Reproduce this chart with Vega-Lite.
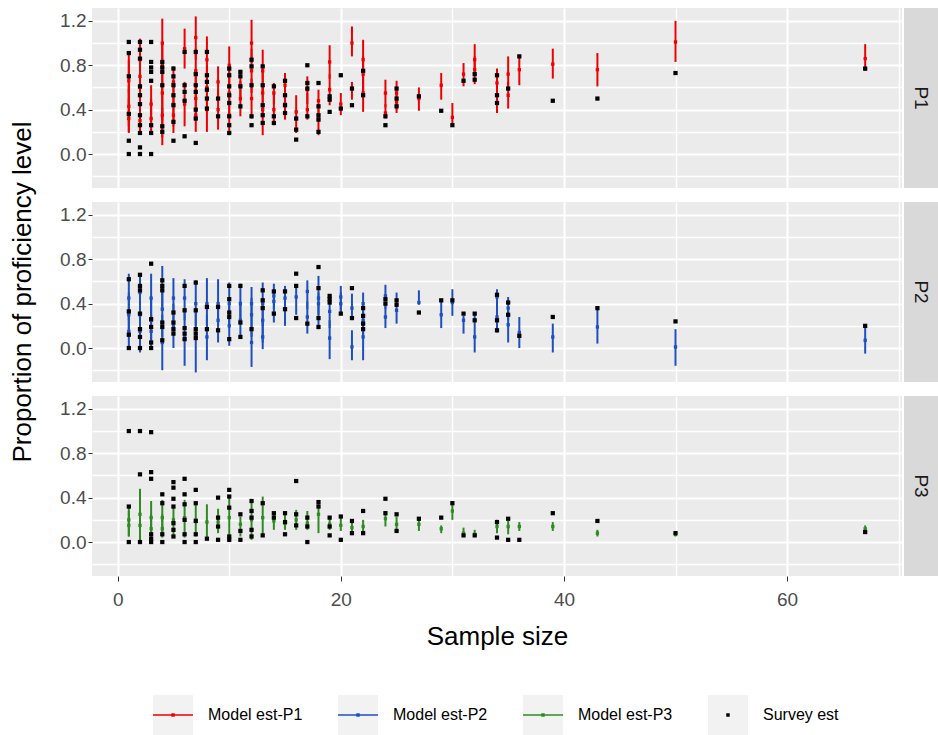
{
  "$schema": "https://vega.github.io/schema/vega-lite/v6.json",
  "padding": {"left": 9, "top": 8, "right": 0, "bottom": 0},
  "background": "white",
  "config": {
    "font": "Liberation Sans",
    "view": {"stroke": null},
    "axis": {"labelFont": "Liberation Sans", "titleFont": "Liberation Sans", "labelColor": "#4D4D4D", "tickColor": "#333333", "titleColor": "#000000", "titleFontWeight": "normal", "domain": false, "gridColor": "#FFFFFF", "labelFontSize": 19, "titleFontSize": 26, "labelOverlap": false}
  },
  "datasets": {
    "m": [
      {"p":"P1","n":1,"e":0.70,"l":0.55,"h":0.91},{"p":"P1","n":1,"e":0.66,"l":0.45,"h":0.85},{"p":"P1","n":1,"e":0.43,"l":0.25,"h":0.62},{"p":"P1","n":1,"e":0.37,"l":0.19,"h":0.58},{"p":"P1","n":1,"e":0.32,"l":0.20,"h":0.50},
      {"p":"P1","n":2,"e":0.85,"l":0.65,"h":1.04},{"p":"P1","n":2,"e":0.60,"l":0.40,"h":0.80},{"p":"P1","n":2,"e":0.45,"l":0.25,"h":0.66},{"p":"P1","n":2,"e":0.30,"l":0.19,"h":0.50},{"p":"P1","n":2,"e":0.70,"l":0.50,"h":0.90},
      {"p":"P1","n":3,"e":0.45,"l":0.28,"h":0.62},{"p":"P1","n":3,"e":0.32,"l":0.19,"h":0.50},
      {"p":"P1","n":4,"e":1.00,"l":0.78,"h":1.22},{"p":"P1","n":4,"e":0.80,"l":0.55,"h":1.00},{"p":"P1","n":4,"e":0.55,"l":0.30,"h":0.78},{"p":"P1","n":4,"e":0.35,"l":0.15,"h":0.55},{"p":"P1","n":4,"e":0.25,"l":0.08,"h":0.42},
      {"p":"P1","n":5,"e":0.65,"l":0.50,"h":0.79},{"p":"P1","n":5,"e":0.45,"l":0.25,"h":0.65},{"p":"P1","n":5,"e":0.35,"l":0.19,"h":0.52},
      {"p":"P1","n":6,"e":0.95,"l":0.77,"h":1.13},{"p":"P1","n":6,"e":0.45,"l":0.25,"h":0.65},
      {"p":"P1","n":7,"e":1.05,"l":0.85,"h":1.24},{"p":"P1","n":7,"e":0.75,"l":0.55,"h":0.95},{"p":"P1","n":7,"e":0.50,"l":0.30,"h":0.70},{"p":"P1","n":7,"e":0.35,"l":0.20,"h":0.55},
      {"p":"P1","n":8,"e":0.85,"l":0.65,"h":1.06},{"p":"P1","n":8,"e":0.60,"l":0.40,"h":0.80},{"p":"P1","n":8,"e":0.40,"l":0.20,"h":0.60},
      {"p":"P1","n":9,"e":0.65,"l":0.50,"h":0.79},{"p":"P1","n":9,"e":0.40,"l":0.22,"h":0.58},
      {"p":"P1","n":10,"e":0.80,"l":0.62,"h":0.97},{"p":"P1","n":10,"e":0.55,"l":0.35,"h":0.75},{"p":"P1","n":10,"e":0.35,"l":0.17,"h":0.52},
      {"p":"P1","n":11,"e":0.62,"l":0.48,"h":0.76},{"p":"P1","n":11,"e":0.50,"l":0.34,"h":0.66},
      {"p":"P1","n":12,"e":1.00,"l":0.82,"h":1.21},{"p":"P1","n":12,"e":0.75,"l":0.55,"h":0.95},{"p":"P1","n":12,"e":0.50,"l":0.32,"h":0.68},
      {"p":"P1","n":13,"e":0.75,"l":0.55,"h":0.94},{"p":"P1","n":13,"e":0.55,"l":0.35,"h":0.75},{"p":"P1","n":13,"e":0.40,"l":0.17,"h":0.60},
      {"p":"P1","n":14,"e":0.55,"l":0.45,"h":0.64},{"p":"P1","n":14,"e":0.40,"l":0.26,"h":0.55},
      {"p":"P1","n":15,"e":0.62,"l":0.50,"h":0.73},{"p":"P1","n":15,"e":0.45,"l":0.31,"h":0.58},
      {"p":"P1","n":16,"e":0.38,"l":0.19,"h":0.53},
      {"p":"P1","n":17,"e":0.58,"l":0.45,"h":0.70},{"p":"P1","n":17,"e":0.40,"l":0.31,"h":0.55},
      {"p":"P1","n":18,"e":0.48,"l":0.32,"h":0.58},{"p":"P1","n":18,"e":0.32,"l":0.17,"h":0.45},
      {"p":"P1","n":19,"e":0.83,"l":0.68,"h":0.98},{"p":"P1","n":19,"e":0.58,"l":0.44,"h":0.72},
      {"p":"P1","n":20,"e":0.45,"l":0.35,"h":0.55},
      {"p":"P1","n":21,"e":1.00,"l":0.88,"h":1.15},{"p":"P1","n":21,"e":0.59,"l":0.49,"h":0.65},
      {"p":"P1","n":22,"e":0.85,"l":0.70,"h":1.03},{"p":"P1","n":22,"e":0.72,"l":0.55,"h":0.88},{"p":"P1","n":22,"e":0.55,"l":0.38,"h":0.72},
      {"p":"P1","n":24,"e":0.55,"l":0.42,"h":0.67},{"p":"P1","n":24,"e":0.37,"l":0.32,"h":0.45},
      {"p":"P1","n":25,"e":0.55,"l":0.40,"h":0.66},{"p":"P1","n":25,"e":0.47,"l":0.37,"h":0.58},
      {"p":"P1","n":27,"e":0.50,"l":0.39,"h":0.60},
      {"p":"P1","n":29,"e":0.62,"l":0.49,"h":0.73},
      {"p":"P1","n":30,"e":0.33,"l":0.26,"h":0.46},
      {"p":"P1","n":31,"e":0.72,"l":0.61,"h":0.82},
      {"p":"P1","n":32,"e":0.85,"l":0.72,"h":0.99},{"p":"P1","n":32,"e":0.76,"l":0.63,"h":0.88},
      {"p":"P1","n":34,"e":0.64,"l":0.50,"h":0.77},{"p":"P1","n":34,"e":0.46,"l":0.37,"h":0.58},
      {"p":"P1","n":35,"e":0.72,"l":0.58,"h":0.88},{"p":"P1","n":35,"e":0.53,"l":0.41,"h":0.65},
      {"p":"P1","n":36,"e":0.76,"l":0.62,"h":0.89},
      {"p":"P1","n":39,"e":0.81,"l":0.68,"h":0.95},
      {"p":"P1","n":43,"e":0.76,"l":0.61,"h":0.91},
      {"p":"P1","n":50,"e":1.01,"l":0.83,"h":1.20},
      {"p":"P1","n":67,"e":0.86,"l":0.75,"h":0.99},

      {"p":"P2","n":1,"e":0.45,"l":0.25,"h":0.67},{"p":"P2","n":1,"e":0.30,"l":0.10,"h":0.50},{"p":"P2","n":1,"e":0.15,"l":-0.01,"h":0.35},
      {"p":"P2","n":2,"e":0.50,"l":0.30,"h":0.67},{"p":"P2","n":2,"e":0.30,"l":0.10,"h":0.50},{"p":"P2","n":2,"e":0.15,"l":-0.04,"h":0.35},
      {"p":"P2","n":3,"e":0.45,"l":0.25,"h":0.67},{"p":"P2","n":3,"e":0.25,"l":0.05,"h":0.45},{"p":"P2","n":3,"e":0.15,"l":0.00,"h":0.30},
      {"p":"P2","n":4,"e":0.55,"l":0.35,"h":0.74},{"p":"P2","n":4,"e":0.35,"l":0.10,"h":0.55},{"p":"P2","n":4,"e":0.05,"l":-0.20,"h":0.30},
      {"p":"P2","n":5,"e":0.45,"l":0.25,"h":0.63},{"p":"P2","n":5,"e":0.20,"l":0.00,"h":0.40},
      {"p":"P2","n":6,"e":0.45,"l":0.25,"h":0.62},{"p":"P2","n":6,"e":0.10,"l":-0.16,"h":0.35},
      {"p":"P2","n":7,"e":0.40,"l":0.20,"h":0.61},{"p":"P2","n":7,"e":0.10,"l":-0.22,"h":0.35},
      {"p":"P2","n":8,"e":0.40,"l":0.20,"h":0.63},{"p":"P2","n":8,"e":0.10,"l":-0.11,"h":0.30},
      {"p":"P2","n":9,"e":0.40,"l":0.20,"h":0.62},{"p":"P2","n":9,"e":0.25,"l":0.05,"h":0.42},
      {"p":"P2","n":10,"e":0.40,"l":0.20,"h":0.59},{"p":"P2","n":10,"e":0.20,"l":0.02,"h":0.38},
      {"p":"P2","n":11,"e":0.40,"l":0.23,"h":0.58},{"p":"P2","n":11,"e":0.25,"l":0.10,"h":0.42},
      {"p":"P2","n":12,"e":0.40,"l":0.25,"h":0.55},{"p":"P2","n":12,"e":0.30,"l":0.10,"h":0.45},{"p":"P2","n":12,"e":0.05,"l":-0.17,"h":0.25},
      {"p":"P2","n":13,"e":0.40,"l":0.20,"h":0.59},{"p":"P2","n":13,"e":0.25,"l":0.05,"h":0.42},{"p":"P2","n":13,"e":0.10,"l":-0.01,"h":0.25},
      {"p":"P2","n":14,"e":0.47,"l":0.35,"h":0.58},{"p":"P2","n":14,"e":0.42,"l":0.23,"h":0.50},
      {"p":"P2","n":15,"e":0.45,"l":0.30,"h":0.56},{"p":"P2","n":15,"e":0.35,"l":0.20,"h":0.45},
      {"p":"P2","n":16,"e":0.46,"l":0.30,"h":0.56},
      {"p":"P2","n":17,"e":0.51,"l":0.35,"h":0.61},{"p":"P2","n":17,"e":0.28,"l":0.13,"h":0.42},
      {"p":"P2","n":18,"e":0.45,"l":0.30,"h":0.65},{"p":"P2","n":18,"e":0.40,"l":0.17,"h":0.50},
      {"p":"P2","n":19,"e":0.33,"l":0.18,"h":0.47},{"p":"P2","n":19,"e":0.09,"l":-0.10,"h":0.25},
      {"p":"P2","n":20,"e":0.46,"l":0.31,"h":0.56},{"p":"P2","n":20,"e":0.40,"l":0.31,"h":0.50},
      {"p":"P2","n":21,"e":0.36,"l":0.29,"h":0.49},{"p":"P2","n":21,"e":0.01,"l":-0.11,"h":0.16},
      {"p":"P2","n":22,"e":0.40,"l":0.25,"h":0.50},{"p":"P2","n":22,"e":0.25,"l":0.10,"h":0.40},{"p":"P2","n":22,"e":0.10,"l":-0.11,"h":0.25},
      {"p":"P2","n":24,"e":0.47,"l":0.35,"h":0.57},{"p":"P2","n":24,"e":0.28,"l":0.18,"h":0.40},
      {"p":"P2","n":25,"e":0.34,"l":0.22,"h":0.50},
      {"p":"P2","n":27,"e":0.41,"l":0.39,"h":0.52},
      {"p":"P2","n":29,"e":0.30,"l":0.18,"h":0.43},
      {"p":"P2","n":30,"e":0.41,"l":0.29,"h":0.53},
      {"p":"P2","n":31,"e":0.25,"l":0.13,"h":0.29},
      {"p":"P2","n":32,"e":0.10,"l":-0.04,"h":0.31},
      {"p":"P2","n":34,"e":0.46,"l":0.35,"h":0.53},{"p":"P2","n":34,"e":0.28,"l":0.14,"h":0.40},
      {"p":"P2","n":35,"e":0.36,"l":0.25,"h":0.46},{"p":"P2","n":35,"e":0.21,"l":0.05,"h":0.35},
      {"p":"P2","n":36,"e":0.14,"l":0.00,"h":0.28},
      {"p":"P2","n":39,"e":0.10,"l":-0.04,"h":0.22},
      {"p":"P2","n":43,"e":0.19,"l":0.04,"h":0.37},
      {"p":"P2","n":50,"e":0.01,"l":-0.16,"h":0.17},
      {"p":"P2","n":67,"e":0.07,"l":-0.05,"h":0.20},

      {"p":"P3","n":1,"e":0.20,"l":0.05,"h":0.32},{"p":"P3","n":1,"e":0.15,"l":0.05,"h":0.28},
      {"p":"P3","n":2,"e":0.25,"l":0.08,"h":0.48},{"p":"P3","n":2,"e":0.15,"l":0.01,"h":0.30},
      {"p":"P3","n":3,"e":0.22,"l":0.05,"h":0.37},{"p":"P3","n":3,"e":0.12,"l":0.01,"h":0.25},
      {"p":"P3","n":4,"e":0.22,"l":0.06,"h":0.38},{"p":"P3","n":4,"e":0.12,"l":0.04,"h":0.25},
      {"p":"P3","n":5,"e":0.20,"l":0.04,"h":0.32},
      {"p":"P3","n":6,"e":0.22,"l":0.04,"h":0.38},
      {"p":"P3","n":7,"e":0.20,"l":0.05,"h":0.34},
      {"p":"P3","n":8,"e":0.18,"l":0.02,"h":0.34},
      {"p":"P3","n":9,"e":0.18,"l":0.08,"h":0.30},
      {"p":"P3","n":10,"e":0.22,"l":0.02,"h":0.40},
      {"p":"P3","n":11,"e":0.16,"l":0.05,"h":0.23},
      {"p":"P3","n":12,"e":0.20,"l":0.02,"h":0.36},
      {"p":"P3","n":13,"e":0.22,"l":0.05,"h":0.41},
      {"p":"P3","n":14,"e":0.19,"l":0.11,"h":0.27},
      {"p":"P3","n":15,"e":0.17,"l":0.11,"h":0.28},
      {"p":"P3","n":16,"e":0.20,"l":0.11,"h":0.29},
      {"p":"P3","n":17,"e":0.17,"l":0.11,"h":0.28},
      {"p":"P3","n":18,"e":0.25,"l":0.08,"h":0.38},
      {"p":"P3","n":19,"e":0.16,"l":0.11,"h":0.22},
      {"p":"P3","n":20,"e":0.15,"l":0.10,"h":0.22},
      {"p":"P3","n":21,"e":0.13,"l":0.07,"h":0.20},
      {"p":"P3","n":22,"e":0.14,"l":0.07,"h":0.20},
      {"p":"P3","n":24,"e":0.21,"l":0.14,"h":0.28},
      {"p":"P3","n":25,"e":0.16,"l":0.11,"h":0.23},
      {"p":"P3","n":27,"e":0.16,"l":0.10,"h":0.20},
      {"p":"P3","n":29,"e":0.12,"l":0.08,"h":0.15},
      {"p":"P3","n":30,"e":0.28,"l":0.20,"h":0.37},
      {"p":"P3","n":31,"e":0.08,"l":0.05,"h":0.13},
      {"p":"P3","n":32,"e":0.07,"l":0.05,"h":0.11},
      {"p":"P3","n":34,"e":0.14,"l":0.08,"h":0.20},
      {"p":"P3","n":35,"e":0.14,"l":0.07,"h":0.19},
      {"p":"P3","n":36,"e":0.14,"l":0.10,"h":0.18},
      {"p":"P3","n":39,"e":0.14,"l":0.10,"h":0.18},
      {"p":"P3","n":43,"e":0.08,"l":0.05,"h":0.11},
      {"p":"P3","n":50,"e":0.07,"l":0.05,"h":0.10},
      {"p":"P3","n":67,"e":0.12,"l":0.08,"h":0.15}
    ],
    "v": [
      {"p":"P1","n":1,"v":1.01},{"p":"P1","n":1,"v":0.91},{"p":"P1","n":1,"v":0.70},{"p":"P1","n":1,"v":0.36},{"p":"P1","n":1,"v":0.12},{"p":"P1","n":1,"v":0.0},
      {"p":"P1","n":2,"v":1.01},{"p":"P1","n":2,"v":0.94},{"p":"P1","n":2,"v":0.86},{"p":"P1","n":2,"v":0.61},{"p":"P1","n":2,"v":0.53},{"p":"P1","n":2,"v":0.45},{"p":"P1","n":2,"v":0.35},{"p":"P1","n":2,"v":0.26},{"p":"P1","n":2,"v":0.19},{"p":"P1","n":2,"v":0.06},{"p":"P1","n":2,"v":0.0},
      {"p":"P1","n":3,"v":1.01},{"p":"P1","n":3,"v":0.83},{"p":"P1","n":3,"v":0.78},{"p":"P1","n":3,"v":0.74},{"p":"P1","n":3,"v":0.66},{"p":"P1","n":3,"v":0.26},{"p":"P1","n":3,"v":0.19},{"p":"P1","n":3,"v":0.0},
      {"p":"P1","n":4,"v":0.83},{"p":"P1","n":4,"v":0.78},{"p":"P1","n":4,"v":0.74},{"p":"P1","n":4,"v":0.62},{"p":"P1","n":4,"v":0.25},{"p":"P1","n":4,"v":0.20},
      {"p":"P1","n":5,"v":0.77},{"p":"P1","n":5,"v":0.70},{"p":"P1","n":5,"v":0.62},{"p":"P1","n":5,"v":0.53},{"p":"P1","n":5,"v":0.44},{"p":"P1","n":5,"v":0.29},{"p":"P1","n":5,"v":0.12},
      {"p":"P1","n":6,"v":0.92},{"p":"P1","n":6,"v":0.62},{"p":"P1","n":6,"v":0.56},{"p":"P1","n":6,"v":0.48},{"p":"P1","n":6,"v":0.16},
      {"p":"P1","n":7,"v":0.92},{"p":"P1","n":7,"v":0.72},{"p":"P1","n":7,"v":0.62},{"p":"P1","n":7,"v":0.56},{"p":"P1","n":7,"v":0.40},{"p":"P1","n":7,"v":0.32},{"p":"P1","n":7,"v":0.10},
      {"p":"P1","n":8,"v":0.92},{"p":"P1","n":8,"v":0.71},{"p":"P1","n":8,"v":0.65},{"p":"P1","n":8,"v":0.58},{"p":"P1","n":8,"v":0.50},{"p":"P1","n":8,"v":0.41},
      {"p":"P1","n":9,"v":0.50},{"p":"P1","n":9,"v":0.34},
      {"p":"P1","n":10,"v":0.77},{"p":"P1","n":10,"v":0.71},{"p":"P1","n":10,"v":0.61},{"p":"P1","n":10,"v":0.53},{"p":"P1","n":10,"v":0.46},{"p":"P1","n":10,"v":0.34},{"p":"P1","n":10,"v":0.26},{"p":"P1","n":10,"v":0.19},
      {"p":"P1","n":11,"v":0.74},{"p":"P1","n":11,"v":0.70},{"p":"P1","n":11,"v":0.61},{"p":"P1","n":11,"v":0.43},
      {"p":"P1","n":12,"v":0.85},{"p":"P1","n":12,"v":0.79},{"p":"P1","n":12,"v":0.62},{"p":"P1","n":12,"v":0.34},{"p":"P1","n":12,"v":0.26},
      {"p":"P1","n":13,"v":0.79},{"p":"P1","n":13,"v":0.62},{"p":"P1","n":13,"v":0.44},{"p":"P1","n":13,"v":0.35},{"p":"P1","n":13,"v":0.28},
      {"p":"P1","n":14,"v":0.61},{"p":"P1","n":14,"v":0.34},{"p":"P1","n":14,"v":0.28},
      {"p":"P1","n":15,"v":0.66},{"p":"P1","n":15,"v":0.53},{"p":"P1","n":15,"v":0.44},{"p":"P1","n":15,"v":0.37},
      {"p":"P1","n":16,"v":0.32},{"p":"P1","n":16,"v":0.22},{"p":"P1","n":16,"v":0.13},
      {"p":"P1","n":17,"v":0.80},{"p":"P1","n":17,"v":0.64},{"p":"P1","n":17,"v":0.59},{"p":"P1","n":17,"v":0.34},
      {"p":"P1","n":18,"v":0.64},{"p":"P1","n":18,"v":0.43},{"p":"P1","n":18,"v":0.35},{"p":"P1","n":18,"v":0.31},{"p":"P1","n":18,"v":0.20},
      {"p":"P1","n":19,"v":0.52},{"p":"P1","n":19,"v":0.49},{"p":"P1","n":19,"v":0.38},
      {"p":"P1","n":20,"v":0.71},{"p":"P1","n":20,"v":0.41},
      {"p":"P1","n":21,"v":0.59},{"p":"P1","n":21,"v":0.44},
      {"p":"P1","n":22,"v":0.75},{"p":"P1","n":22,"v":0.53},
      {"p":"P1","n":24,"v":0.34},{"p":"P1","n":24,"v":0.26},
      {"p":"P1","n":25,"v":0.59},{"p":"P1","n":25,"v":0.50},{"p":"P1","n":25,"v":0.43},
      {"p":"P1","n":27,"v":0.52},{"p":"P1","n":29,"v":0.39},{"p":"P1","n":30,"v":0.26},{"p":"P1","n":31,"v":0.66},
      {"p":"P1","n":32,"v":0.72},{"p":"P1","n":32,"v":0.67},
      {"p":"P1","n":34,"v":0.71},{"p":"P1","n":34,"v":0.53},{"p":"P1","n":34,"v":0.46},
      {"p":"P1","n":35,"v":0.59},{"p":"P1","n":36,"v":0.88},{"p":"P1","n":39,"v":0.48},{"p":"P1","n":43,"v":0.50},{"p":"P1","n":50,"v":0.73},{"p":"P1","n":67,"v":0.77},

      {"p":"P2","n":1,"v":0.62},{"p":"P2","n":1,"v":0.33},{"p":"P2","n":1,"v":0.12},{"p":"P2","n":1,"v":0.0},
      {"p":"P2","n":2,"v":0.66},{"p":"P2","n":2,"v":0.56},{"p":"P2","n":2,"v":0.52},{"p":"P2","n":2,"v":0.31},{"p":"P2","n":2,"v":0.17},{"p":"P2","n":2,"v":0.10},{"p":"P2","n":2,"v":0.0},
      {"p":"P2","n":3,"v":0.76},{"p":"P2","n":3,"v":0.26},{"p":"P2","n":3,"v":0.19},{"p":"P2","n":3,"v":0.05},{"p":"P2","n":3,"v":0.0},
      {"p":"P2","n":4,"v":0.61},{"p":"P2","n":4,"v":0.56},{"p":"P2","n":4,"v":0.52},{"p":"P2","n":4,"v":0.23},{"p":"P2","n":4,"v":0.19},{"p":"P2","n":4,"v":0.07},
      {"p":"P2","n":5,"v":0.32},{"p":"P2","n":5,"v":0.23},{"p":"P2","n":5,"v":0.17},{"p":"P2","n":5,"v":0.13},
      {"p":"P2","n":6,"v":0.56},{"p":"P2","n":6,"v":0.34},{"p":"P2","n":6,"v":0.18},{"p":"P2","n":6,"v":0.13},{"p":"P2","n":6,"v":0.08},
      {"p":"P2","n":7,"v":0.59},{"p":"P2","n":7,"v":0.34},{"p":"P2","n":7,"v":0.17},{"p":"P2","n":7,"v":0.13},{"p":"P2","n":7,"v":0.09},
      {"p":"P2","n":8,"v":0.37},{"p":"P2","n":8,"v":0.17},
      {"p":"P2","n":9,"v":0.37},{"p":"P2","n":9,"v":0.16},
      {"p":"P2","n":10,"v":0.56},{"p":"P2","n":10,"v":0.44},{"p":"P2","n":10,"v":0.32},{"p":"P2","n":10,"v":0.28},{"p":"P2","n":10,"v":0.08},
      {"p":"P2","n":11,"v":0.56},{"p":"P2","n":11,"v":0.23},{"p":"P2","n":11,"v":0.10},
      {"p":"P2","n":12,"v":0.17},
      {"p":"P2","n":13,"v":0.52},{"p":"P2","n":13,"v":0.43},{"p":"P2","n":13,"v":0.36},
      {"p":"P2","n":14,"v":0.51},{"p":"P2","n":14,"v":0.31},
      {"p":"P2","n":15,"v":0.51},{"p":"P2","n":15,"v":0.35},
      {"p":"P2","n":16,"v":0.67},{"p":"P2","n":16,"v":0.56},{"p":"P2","n":16,"v":0.27},
      {"p":"P2","n":17,"v":0.22},
      {"p":"P2","n":18,"v":0.73},{"p":"P2","n":18,"v":0.54},{"p":"P2","n":18,"v":0.27},{"p":"P2","n":18,"v":0.19},
      {"p":"P2","n":19,"v":0.47},{"p":"P2","n":19,"v":0.44},{"p":"P2","n":19,"v":0.41},
      {"p":"P2","n":20,"v":0.31},
      {"p":"P2","n":21,"v":0.54},{"p":"P2","n":21,"v":0.27},
      {"p":"P2","n":22,"v":0.36},{"p":"P2","n":22,"v":0.29},{"p":"P2","n":22,"v":0.22},{"p":"P2","n":22,"v":0.17},
      {"p":"P2","n":24,"v":0.44},{"p":"P2","n":24,"v":0.40},
      {"p":"P2","n":25,"v":0.43},{"p":"P2","n":25,"v":0.39},
      {"p":"P2","n":27,"v":0.32},{"p":"P2","n":29,"v":0.43},{"p":"P2","n":30,"v":0.43},{"p":"P2","n":31,"v":0.31},
      {"p":"P2","n":32,"v":0.31},{"p":"P2","n":32,"v":0.25},
      {"p":"P2","n":34,"v":0.48},{"p":"P2","n":34,"v":0.25},{"p":"P2","n":34,"v":0.16},
      {"p":"P2","n":35,"v":0.41},{"p":"P2","n":35,"v":0.30},
      {"p":"P2","n":36,"v":0.11},{"p":"P2","n":39,"v":0.28},{"p":"P2","n":43,"v":0.36},{"p":"P2","n":50,"v":0.24},{"p":"P2","n":67,"v":0.20},

      {"p":"P3","n":1,"v":1.0},{"p":"P3","n":1,"v":0.32},{"p":"P3","n":1,"v":0.0},
      {"p":"P3","n":2,"v":1.0},{"p":"P3","n":2,"v":0.61},{"p":"P3","n":2,"v":0.0},
      {"p":"P3","n":3,"v":0.99},{"p":"P3","n":3,"v":0.63},{"p":"P3","n":3,"v":0.57},{"p":"P3","n":3,"v":0.07},{"p":"P3","n":3,"v":0.03},{"p":"P3","n":3,"v":0.0},
      {"p":"P3","n":4,"v":0.43},{"p":"P3","n":4,"v":0.35},{"p":"P3","n":4,"v":0.07},{"p":"P3","n":4,"v":0.0},
      {"p":"P3","n":5,"v":0.54},{"p":"P3","n":5,"v":0.49},{"p":"P3","n":5,"v":0.39},{"p":"P3","n":5,"v":0.32},{"p":"P3","n":5,"v":0.17},{"p":"P3","n":5,"v":0.11},{"p":"P3","n":5,"v":0.05},
      {"p":"P3","n":6,"v":0.57},{"p":"P3","n":6,"v":0.43},{"p":"P3","n":6,"v":0.34},{"p":"P3","n":6,"v":0.20},{"p":"P3","n":6,"v":0.07},{"p":"P3","n":6,"v":0.0},
      {"p":"P3","n":7,"v":0.47},{"p":"P3","n":7,"v":0.35},{"p":"P3","n":7,"v":0.19},{"p":"P3","n":7,"v":0.07},{"p":"P3","n":7,"v":0.0},
      {"p":"P3","n":8,"v":0.03},
      {"p":"P3","n":9,"v":0.40},{"p":"P3","n":9,"v":0.22},{"p":"P3","n":9,"v":0.14},{"p":"P3","n":9,"v":0.02},
      {"p":"P3","n":10,"v":0.47},{"p":"P3","n":10,"v":0.41},{"p":"P3","n":10,"v":0.31},{"p":"P3","n":10,"v":0.05},{"p":"P3","n":10,"v":0.02},
      {"p":"P3","n":11,"v":0.25},{"p":"P3","n":11,"v":0.10},{"p":"P3","n":11,"v":0.02},
      {"p":"P3","n":12,"v":0.37},{"p":"P3","n":12,"v":0.28},{"p":"P3","n":12,"v":0.22},{"p":"P3","n":12,"v":0.11},{"p":"P3","n":12,"v":0.05},
      {"p":"P3","n":13,"v":0.35},{"p":"P3","n":13,"v":0.06},
      {"p":"P3","n":14,"v":0.26},{"p":"P3","n":14,"v":0.22},
      {"p":"P3","n":15,"v":0.26},{"p":"P3","n":15,"v":0.18},{"p":"P3","n":15,"v":0.07},
      {"p":"P3","n":16,"v":0.55},{"p":"P3","n":16,"v":0.25},{"p":"P3","n":16,"v":0.15},
      {"p":"P3","n":17,"v":0.22},{"p":"P3","n":17,"v":0.14},{"p":"P3","n":17,"v":0.0},
      {"p":"P3","n":18,"v":0.36},{"p":"P3","n":18,"v":0.32},
      {"p":"P3","n":19,"v":0.22},{"p":"P3","n":19,"v":0.14},{"p":"P3","n":19,"v":0.06},
      {"p":"P3","n":20,"v":0.23},{"p":"P3","n":20,"v":0.02},
      {"p":"P3","n":21,"v":0.19},{"p":"P3","n":21,"v":0.08},
      {"p":"P3","n":22,"v":0.28},{"p":"P3","n":22,"v":0.08},
      {"p":"P3","n":24,"v":0.39},{"p":"P3","n":24,"v":0.26},
      {"p":"P3","n":25,"v":0.25},{"p":"P3","n":25,"v":0.10},
      {"p":"P3","n":27,"v":0.21},{"p":"P3","n":29,"v":0.22},{"p":"P3","n":30,"v":0.35},{"p":"P3","n":31,"v":0.06},{"p":"P3","n":32,"v":0.06},
      {"p":"P3","n":34,"v":0.18},{"p":"P3","n":34,"v":0.04},
      {"p":"P3","n":35,"v":0.21},{"p":"P3","n":35,"v":0.02},
      {"p":"P3","n":36,"v":0.02},{"p":"P3","n":39,"v":0.26},{"p":"P3","n":43,"v":0.19},{"p":"P3","n":50,"v":0.08},{"p":"P3","n":67,"v":0.09}
    ],
    "keys": [{"s":"Model est-P1"},{"s":"Model est-P2"},{"s":"Model est-P3"},{"s":"Survey est"}]
  },
  "hconcat": [
    {"width": 26, "height": 568,
     "data": {"values": [{"t": "Proportion of proficiency level"}]},
     "mark": {"type": "text", "angle": 270, "fontSize": 26, "color": "#000000", "font": "Liberation Sans"},
     "encoding": {"text": {"field": "t"}}},
    {"concat": [
      {"hconcat": [
        {"width": 810, "height": 180, "view": {"fill": "#EBEBEB", "stroke": null},
         "layer": [
          {"data": {"name": "m"}, "transform": [{"filter": "datum.p == 'P1'"}],
           "mark": {"type": "rule", "strokeWidth": 2},
           "encoding": {
             "x": {"field": "n", "type": "quantitative", "scale": {"domain": [-2.3, 70.3], "nice": false, "zero": false}, "axis": {"values": [0, 20, 40, 60], "labels": false, "ticks": false, "title": null, "grid": true, "gridWidth": 2}},
             "y": {"field": "l", "type": "quantitative", "scale": {"domain": [-0.306, 1.316], "nice": false, "zero": false}, "axis": {"values": [0, 0.4, 0.8, 1.2], "format": ".1f", "title": null, "grid": true, "gridWidth": 2, "tickSize": 4, "labelPadding": 2}},
             "y2": {"field": "h"},
             "color": {"datum": "Model est-P1", "type": "nominal", "scale": {"domain": ["Model est-P1", "Model est-P2", "Model est-P3", "Survey est"], "range": ["#EE0000", "#1C4FC0", "#2E8B22", "#000000"]}, "legend": null}
           }},
          {"data": {"name": "m"}, "transform": [{"filter": "datum.p == 'P1'"}],
           "mark": {"type": "point", "shape": "square", "filled": true, "size": 11, "opacity": 1},
           "encoding": {
             "x": {"field": "n", "type": "quantitative", "axis": {"orient": "bottom", "values": [10, 30, 50, 70], "labels": false, "ticks": false, "title": null, "grid": true, "gridWidth": 1.4}},
             "y": {"field": "e", "type": "quantitative", "axis": {"orient": "right", "values": [-0.2, 0.2, 0.6, 1.0], "labels": false, "ticks": false, "title": null, "grid": true, "gridWidth": 1.4}},
             "color": {"datum": "Model est-P1", "type": "nominal", "legend": null}
           }},
          {"data": {"name": "v"}, "transform": [{"filter": "datum.p == 'P1'"}],
           "mark": {"type": "point", "shape": "square", "filled": true, "size": 18, "opacity": 1},
           "encoding": {
             "x": {"field": "n", "type": "quantitative", "axis": null},
             "y": {"field": "v", "type": "quantitative", "axis": null},
             "color": {"datum": "Survey est", "type": "nominal", "legend": null}
           }}
         ],
         "resolve": {"axis": {"x": "independent", "y": "independent"}}},
        {"width": 34, "height": 180, "view": {"fill": "#D9D9D9", "stroke": null},
         "data": {"values": [{"t": "P1"}]},
         "mark": {"type": "text", "angle": 90, "fontSize": 19, "color": "#1A1A1A", "font": "Liberation Sans"},
         "encoding": {"text": {"field": "t"}}}
      ], "spacing": 2},
      {"hconcat": [
        {"width": 810, "height": 180, "view": {"fill": "#EBEBEB", "stroke": null},
         "layer": [
          {"data": {"name": "m"}, "transform": [{"filter": "datum.p == 'P2'"}],
           "mark": {"type": "rule", "strokeWidth": 2},
           "encoding": {
             "x": {"field": "n", "type": "quantitative", "scale": {"domain": [-2.3, 70.3], "nice": false, "zero": false}, "axis": {"values": [0, 20, 40, 60], "labels": false, "ticks": false, "title": null, "grid": true, "gridWidth": 2}},
             "y": {"field": "l", "type": "quantitative", "scale": {"domain": [-0.306, 1.316], "nice": false, "zero": false}, "axis": {"values": [0, 0.4, 0.8, 1.2], "format": ".1f", "title": null, "grid": true, "gridWidth": 2, "tickSize": 4, "labelPadding": 2}},
             "y2": {"field": "h"},
             "color": {"datum": "Model est-P2", "type": "nominal", "scale": {"domain": ["Model est-P1", "Model est-P2", "Model est-P3", "Survey est"], "range": ["#EE0000", "#1C4FC0", "#2E8B22", "#000000"]}, "legend": null}
           }},
          {"data": {"name": "m"}, "transform": [{"filter": "datum.p == 'P2'"}],
           "mark": {"type": "point", "shape": "square", "filled": true, "size": 11, "opacity": 1},
           "encoding": {
             "x": {"field": "n", "type": "quantitative", "axis": {"orient": "bottom", "values": [10, 30, 50, 70], "labels": false, "ticks": false, "title": null, "grid": true, "gridWidth": 1.4}},
             "y": {"field": "e", "type": "quantitative", "axis": {"orient": "right", "values": [-0.2, 0.2, 0.6, 1.0], "labels": false, "ticks": false, "title": null, "grid": true, "gridWidth": 1.4}},
             "color": {"datum": "Model est-P2", "type": "nominal", "legend": null}
           }},
          {"data": {"name": "v"}, "transform": [{"filter": "datum.p == 'P2'"}],
           "mark": {"type": "point", "shape": "square", "filled": true, "size": 18, "opacity": 1},
           "encoding": {
             "x": {"field": "n", "type": "quantitative", "axis": null},
             "y": {"field": "v", "type": "quantitative", "axis": null},
             "color": {"datum": "Survey est", "type": "nominal", "legend": null}
           }}
         ],
         "resolve": {"axis": {"x": "independent", "y": "independent"}}},
        {"width": 34, "height": 180, "view": {"fill": "#D9D9D9", "stroke": null},
         "data": {"values": [{"t": "P2"}]},
         "mark": {"type": "text", "angle": 90, "fontSize": 19, "color": "#1A1A1A", "font": "Liberation Sans"},
         "encoding": {"text": {"field": "t"}}}
      ], "spacing": 2},
      {"hconcat": [
        {"width": 810, "height": 180, "view": {"fill": "#EBEBEB", "stroke": null},
         "layer": [
          {"data": {"name": "m"}, "transform": [{"filter": "datum.p == 'P3'"}],
           "mark": {"type": "rule", "strokeWidth": 2},
           "encoding": {
             "x": {"field": "n", "type": "quantitative", "scale": {"domain": [-2.3, 70.3], "nice": false, "zero": false}, "axis": {"values": [0, 20, 40, 60], "title": "Sample size", "titlePadding": 14, "grid": true, "gridWidth": 2, "tickSize": 5, "labelPadding": 9}},
             "y": {"field": "l", "type": "quantitative", "scale": {"domain": [-0.306, 1.316], "nice": false, "zero": false}, "axis": {"values": [0, 0.4, 0.8, 1.2], "format": ".1f", "title": null, "grid": true, "gridWidth": 2, "tickSize": 4, "labelPadding": 2}},
             "y2": {"field": "h"},
             "color": {"datum": "Model est-P3", "type": "nominal", "scale": {"domain": ["Model est-P1", "Model est-P2", "Model est-P3", "Survey est"], "range": ["#EE0000", "#1C4FC0", "#2E8B22", "#000000"]}, "legend": null}
           }},
          {"data": {"name": "m"}, "transform": [{"filter": "datum.p == 'P3'"}],
           "mark": {"type": "point", "shape": "square", "filled": true, "size": 11, "opacity": 1},
           "encoding": {
             "x": {"field": "n", "type": "quantitative", "axis": {"orient": "top", "values": [10, 30, 50, 70], "labels": false, "ticks": false, "title": null, "grid": true, "gridWidth": 1.4}},
             "y": {"field": "e", "type": "quantitative", "axis": {"orient": "right", "values": [-0.2, 0.2, 0.6, 1.0], "labels": false, "ticks": false, "title": null, "grid": true, "gridWidth": 1.4}},
             "color": {"datum": "Model est-P3", "type": "nominal", "legend": null}
           }},
          {"data": {"name": "v"}, "transform": [{"filter": "datum.p == 'P3'"}],
           "mark": {"type": "point", "shape": "square", "filled": true, "size": 18, "opacity": 1},
           "encoding": {
             "x": {"field": "n", "type": "quantitative", "axis": null},
             "y": {"field": "v", "type": "quantitative", "axis": null},
             "color": {"datum": "Survey est", "type": "nominal", "legend": null}
           }}
         ],
         "resolve": {"axis": {"x": "independent", "y": "independent"}}},
        {"width": 34, "height": 180, "view": {"fill": "#D9D9D9", "stroke": null},
         "data": {"values": [{"t": "P3"}]},
         "mark": {"type": "text", "angle": 90, "fontSize": 19, "color": "#1A1A1A", "font": "Liberation Sans"},
         "encoding": {"text": {"field": "t"}}}
      ], "spacing": 2},
      {"width": 717, "height": 104,
       "data": {"name": "keys"},
       "layer": [
        {"mark": {"type": "point", "shape": "square", "filled": true, "size": 1600, "color": "#F2F2F2", "opacity": 1},
         "encoding": {"x": {"field": "s", "type": "nominal", "scale": {"type": "point", "padding": 0.438}, "axis": null}}},
        {"transform": [{"filter": "datum.s != 'Survey est'"}],
         "mark": {"type": "tick", "orient": "horizontal", "size": 40, "thickness": 1.6, "opacity": 1},
         "encoding": {
           "x": {"field": "s", "type": "nominal", "axis": null},
           "color": {"field": "s", "type": "nominal", "scale": {"domain": ["Model est-P1", "Model est-P2", "Model est-P3", "Survey est"], "range": ["#EE0000", "#1C4FC0", "#2E8B22", "#000000"]}, "legend": null}
         }},
        {"mark": {"type": "point", "shape": "square", "filled": true, "size": 12, "opacity": 1},
         "encoding": {
           "x": {"field": "s", "type": "nominal", "axis": null},
           "color": {"field": "s", "type": "nominal", "legend": null}
         }},
        {"mark": {"type": "text", "align": "left", "dx": 35, "fontSize": 16, "font": "Liberation Sans", "color": "#000000"},
         "encoding": {
           "x": {"field": "s", "type": "nominal", "axis": null},
           "text": {"field": "s"}
         }}
       ]}
    ],
    "columns": 1,
    "spacing": 14,
    "align": "each",
    "resolve": {"scale": {"color": "independent", "shape": "independent", "x": "independent"}}}
  ],
  "spacing": 22,
  "resolve": {"scale": {"color": "independent", "shape": "independent"}}
}
